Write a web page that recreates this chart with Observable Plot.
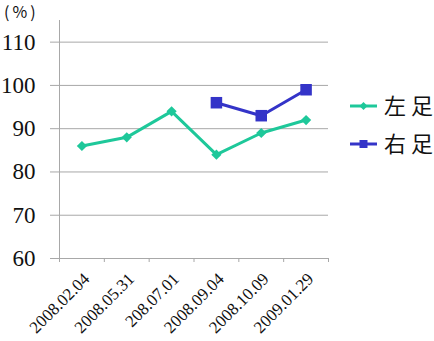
<!DOCTYPE html>
<html><head><meta charset="utf-8">
<script src="https://cdn.jsdelivr.net/npm/d3@7"></script>
<script src="https://cdn.jsdelivr.net/npm/@observablehq/plot@0.6"></script>
<style>
body{margin:0;background:#fff;}
#c{position:relative;width:434px;height:341px;}
#unit{position:absolute;left:4px;top:0px;font-family:"Noto Sans CJK JP";font-size:16px;line-height:22px;letter-spacing:3px;color:#111;}
</style>
</head><body>
<div id="c"><div id="unit">(%)</div></div>
<script>
const dates = ["2008.02.04","2008.05.31","208.07.01","2008.09.04","2008.10.09","2009.01.29"];
const leftFoot = [86,88,94,84,89,92];
const rightFoot = [null,null,null,96,93,99];
const yTicks = [60,70,80,90,100,110];
const seriesNames = ["左足","右足"];
const colors = ["#1ec89a","#3434c8"];

const left = dates.map((d,i)=>({i:i+0.5, v:leftFoot[i]}));
const right = dates.map((d,i)=>({i:i+0.5, v:rightFoot[i]})).filter(d=>d.v!=null);
const bounds = d3.range(dates.length+1);
const labels = dates.map((d,i)=>({i:i+0.5, t:d}));

const chart = Plot.plot({
  width:434, height:341,
  marginLeft:59, marginRight:106, marginTop:20, marginBottom:83,
  x:{domain:[0,dates.length], axis:null},
  y:{domain:[60,115], axis:null},
  style:{background:"transparent"},
  marks:[
    Plot.ruleY(yTicks.slice(1), {stroke:"#a8a8a8", strokeWidth:1}),
    Plot.axisY({ticks:yTicks, tickSize:9, tickFormat:()=>"", stroke:"#a8a8a8", strokeOpacity:1, label:null}),
    Plot.text(yTicks, {x:0, y:d=>d, text:d=>String(d), dx:-24, textAnchor:"end", fontSize:23, fontFamily:"Liberation Serif", fill:"#111"}),
    Plot.ruleX([0], {stroke:"#a8a8a8"}),
    Plot.ruleY([60], {stroke:"#a8a8a8"}),
    Plot.axisX({ticks:bounds, tickSize:4, tickFormat:()=>"", stroke:"#a8a8a8", strokeOpacity:1, label:null}),
    Plot.text(labels, {x:"i", y:60, text:"t", rotate:-45, textAnchor:"end", lineAnchor:"top", dx:0, dy:13, fontSize:17, fontFamily:"Liberation Serif", fill:"#111"}),
    Plot.line(left, {x:"i", y:"v", stroke:colors[0], strokeWidth:3}),
    Plot.dot(left, {x:"i", y:"v", symbol:"diamond2", r:4.6, fill:colors[0], stroke:null}),
    Plot.line(right, {x:"i", y:"v", stroke:colors[1], strokeWidth:3}),
    Plot.dot(right, {x:"i", y:"v", symbol:"square", r:6.5, fill:colors[1], stroke:null})
  ]
});
document.getElementById("c").appendChild(chart);

// legend
const svg = d3.select(chart);
const lg = svg.append("g");
const ly = [106, 144];
seriesNames.forEach((name,k)=>{
  const g = lg.append("g").attr("transform",`translate(0,${ly[k]})`);
  g.append("line").attr("x1",350).attr("x2",377).attr("y1",0).attr("y2",0).attr("stroke",colors[k]).attr("stroke-width",3);
  g.append("path").attr("transform","translate(363.5,0)")
   .attr("d", d3.symbol(k===0?d3.symbolDiamond2:d3.symbolSquare, k===0?40:64)())
   .attr("fill",colors[k]);
  const t = g.append("text").attr("x",384).attr("y",0).attr("dy","0.36em")
   .attr("text-anchor","start")
   .attr("font-family","Noto Sans CJK JP").attr("font-size",22)
   .attr("fill","#111");
  t.append("tspan").text(name[0]);
  t.append("tspan").attr("dx",5).text(name.slice(1));
});
</script>
</body></html>
